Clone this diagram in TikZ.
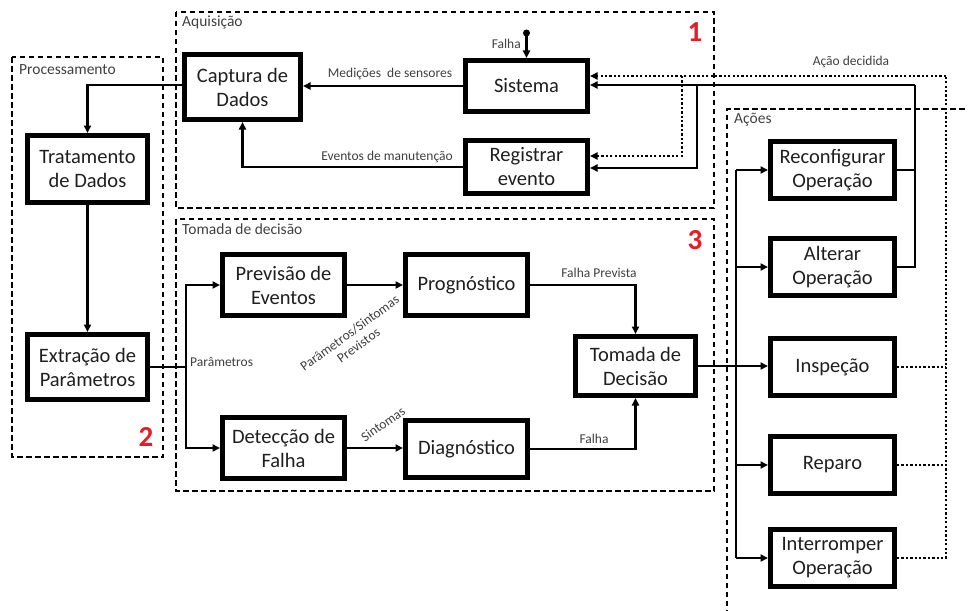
\documentclass[tikz,border=0pt]{standalone}
\usepackage{fontspec}
\setmainfont{Carlito}
\usetikzlibrary{arrows.meta,calc}
\definecolor{numred}{RGB}{232,28,36}
\begin{document}
\begin{tikzpicture}[x=1pt,y=-1pt,
  box/.style={draw, line width=4.6pt, align=center, inner sep=0pt, font=\fontsize{20.5}{24}\selectfont, text=black!88},
  conn/.style={line width=2.1pt, -{Triangle[length=7.5pt,width=7pt]}},
  plain/.style={line width=2.1pt},
  dotl/.style={line width=2.4pt, dash pattern=on 2.3pt off 2.1pt},
  dotarr/.style={dotl, -{Triangle[length=7.5pt,width=7pt]}},
  grp/.style={draw, line width=1.3pt, dash pattern=on 5.5pt off 3.5pt},
  grplabel/.style={font=\fontsize{15.5}{17}\selectfont, text=black!75, anchor=north west, inner sep=0pt},
  lbl/.style={font=\fontsize{13.5}{15}\selectfont, text=black!75, inner sep=1pt},
  num/.style={font=\fontsize{29}{30}\selectfont\bfseries, text=numred, inner sep=0pt}
]
\useasboundingbox[fill=white] (0,0) rectangle (968,610);

% group frames
\draw[grp] (176,12) rectangle (714,208);
\draw[grp] (176,219) rectangle (714,491);
\draw[grp] (12,57) rectangle (163,457);
\draw[grp] (727,615) -- (727,109) -- (968,109);

\node[grplabel] (gA) at (182,16) {Aquisição};
\node[grplabel] (gT) at (182,224) {Tomada de decisão};
\node[grplabel] (gP) at (19,64) {Processamento};
\node[grplabel] (gC) at (734,113) {Ações};

\node[num] (n1) at (695,32) {1};
\node[num] (n2) at (146,437) {2};
\node[num] (n3) at (695,240) {3};

% boxes
\node[box, minimum width=116.4, minimum height=65.4] (cap) at (242.5,87) {Captura de\\Dados};
\node[box, minimum width=122.4, minimum height=51.4] (sis) at (526.5,86) {Sistema};
\node[box, minimum width=122.4, minimum height=53.4] (reg) at (526.5,167) {Registrar\\evento};
\node[box, minimum width=120.4, minimum height=67.4] (trat) at (87.5,169) {Tratamento\\de Dados};
\node[box, minimum width=120.4, minimum height=65.4] (ext) at (87.5,367) {Extração de\\Parâmetros};
\node[box, minimum width=122.4, minimum height=61.4] (prev) at (283.5,285) {Previsão de\\Eventos};
\node[box, minimum width=122.4, minimum height=61.4] (prog) at (466.5,285) {Prognóstico};
\node[box, minimum width=122.4, minimum height=61.4] (det) at (283.5,448) {Detecção de\\Falha};
\node[box, minimum width=122.4, minimum height=57.4] (diag) at (466.5,449) {Diagnóstico};
\node[box, minimum width=120.4, minimum height=59.4] (tom) at (635.5,366) {Tomada de\\Decisão};
\node[box, minimum width=124.4, minimum height=57.4] (rec) at (832.5,170) {Reconfigurar\\Operação};
\node[box, minimum width=124.4, minimum height=57.4] (alt) at (832.5,267) {Alterar\\Operação};
\node[box, minimum width=124.4, minimum height=57.4] (ins) at (832.5,367) {Inspeção};
\node[box, minimum width=124.4, minimum height=57.4] (rep) at (832.5,465) {Reparo};
\node[box, minimum width=124.4, minimum height=57.4] (int) at (832.5,558) {Interromper\\Operação};

% acquisition
\coordinate (fdot) at (526.5,33);
\fill (fdot) circle (3.5);
\draw[conn] (fdot) -- (sis.north);
\node[lbl, anchor=east] (lf) at (522,44) {Falha};
\draw[conn] (sis.west) -- (sis.west -| cap.east);
\node[lbl] (lm) at (390,74) {Medições\ \ de sensores};
\draw[conn] (reg.west) -| (cap.south);
\node[lbl] (le) at (387,157) {Eventos de manutenção};

% processing
\coordinate (pj) at (87.5,85);
\draw[conn] (pj -| cap.west) -- (pj) -- (trat.north);
\draw[conn] (trat.south) -- (ext.north);
\coordinate (busP) at (186,367);
\draw[plain] (ext.east) -- (busP);
\draw[conn] (busP) |- (prev.west);
\draw[conn] (busP) |- (det.west);
\node[lbl, anchor=west] (lp) at (189,362) {Parâmetros};

% decision
\draw[conn] (prev.east) -- (prog.west);
\node[lbl, rotate=36, align=center, inner sep=0pt] (lps) at (354,339) {Parâmetros/Sintomas\\Previstos};
\draw[conn] (prog.east) -| (tom.north);
\node[lbl] (lfp) at (599,273) {Falha Prevista};
\draw[conn] (det.east) -- (det.east -| diag.west);
\node[lbl, rotate=35] (ls) at (383,424) {Sintomas};
\draw[conn] (diag.east) -| (tom.south);
\node[lbl] (lf2) at (594,439) {Falha};

% actions
\coordinate (busA) at (736,367);
\draw[conn] (tom.east) -- (tom.east -| ins.west);
\draw[plain] (736,170) -- (736,558);
\draw[conn] (busA |- rec.west) -- (rec.west);
\draw[conn] (busA |- alt.west) -- (alt.west);
\draw[conn] (busA |- rep.west) -- (rep.west);
\draw[conn] (busA |- int.west) -- (int.west);

% feedback solid
\coordinate (fbS) at (915,85);
\coordinate (brS) at (697,85);
\draw[plain] (rec.east) -- (rec.east -| fbS);
\draw[plain] (alt.east) -| (fbS);
\draw[conn] (fbS) -- (fbS -| sis.east);
\draw[conn] (brS) |- (reg.east |- 0,168);

% feedback dotted
\coordinate (fbD) at (946,76);
\coordinate (brD) at (682,76);
\draw[dotl] (ins.east) -- (ins.east -| fbD);
\draw[dotl] (rep.east) -- (rep.east -| fbD);
\draw[dotl] (int.east) -| (fbD);
\draw[dotarr] (fbD) -- (fbD -| sis.east);
\draw[dotarr] (brD) |- (reg.east |- 0,156);
\node[lbl] (lad) at (851,62) {Ação decidida};
\end{tikzpicture}
\end{document}
